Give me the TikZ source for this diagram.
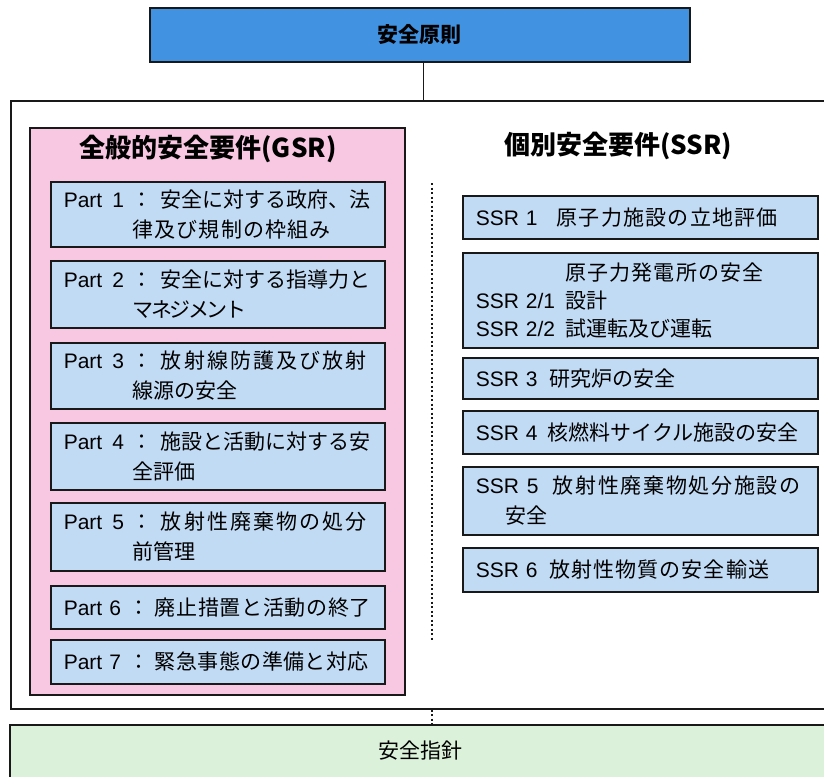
\documentclass[tikz,border=0pt]{standalone}
\usepackage{fontspec}
\setmainfont{Noto Sans CJK JP}
\newfontfamily\lat{Liberation Sans}
\definecolor{topblue}{RGB}{66,146,226}
\definecolor{gsrpink}{RGB}{248,200,226}
\definecolor{boxblue}{RGB}{194,219,245}
\definecolor{guidegreen}{RGB}{220,241,217}
\newcommand\partlbl[1]{{\lat Part\hspace{10pt}#1}\hspace{8pt}：\hspace{8pt}}
\newcommand\partlblb[1]{{\lat Part #1}\hspace{8pt}：\hspace{5pt}}
\newcommand\wide[2]{{\addfontfeatures{LetterSpace=#1}#2}}
\newcommand\indentline[2]{\mbox{\kern#1pt\relax #2}}
\tikzset{
  frame/.style={draw=black!90, line width=1.6pt},
  plainbox/.style={frame, anchor=north west, inner sep=0pt},
  partbox/.style={frame, fill=boxblue, anchor=north west, inner xsep=13pt, inner ysep=0pt,
    align=left, text width=308pt, minimum width=334pt, font=\fontsize{21}{30}\selectfont},
  ssrbox/.style={frame, fill=boxblue, anchor=north west, inner xsep=13pt, inner ysep=0pt,
    align=left, text width=329pt, minimum width=355pt, font=\fontsize{21}{30}\selectfont},
  title/.style={font=\fontsize{26}{30}\selectfont\bfseries, inner sep=0pt},
  divider/.style={draw=black!90, line width=1.3pt, dash pattern=on 2pt off 2.5pt},
  conn/.style={draw=black!90, line width=1.1pt}
}
\begin{document}
\begin{tikzpicture}[x=1pt, y=-1pt]
\useasboundingbox (0,0) rectangle (824,776);
\clip (0,0) rectangle (824,776);
\fill[white] (0,0) rectangle (824,776);

% outer frame
\node[plainbox, minimum width=830pt, minimum height=608pt] (outer) at (10,100) {};

% GSR column
\node[plainbox, fill=gsrpink, minimum width=375pt, minimum height=567pt] (gsr) at (29,127) {};
\node[title] (gsrtitle) at (208,149) {全般的安全要件(GSR)};

\node[partbox, minimum height=65pt] (p1) at (50,181)
  {\mbox{\partlbl{1}安全に対する政府、法}\\\indentline{69}{\wide{5}{律及び規制の枠組み}}};
\node[partbox, minimum height=67pt] (p2) at (50,260)
  {\mbox{\partlbl{2}安全に対する指導力と}\\\indentline{69}{\wide{-12}{マネジメント}}};
\node[partbox, minimum height=66pt] (p3) at (50,342)
  {\mbox{\partlbl{3}\wide{10}{放射線防護及び放射}}\\\indentline{69}{線源の安全}};
\node[partbox, minimum height=67pt] (p4) at (50,422)
  {\mbox{\partlbl{4}施設と活動に対する安}\\\indentline{69}{全評価}};
\node[partbox, minimum height=68pt] (p5) at (50,502)
  {\mbox{\partlbl{5}\wide{10}{放射性廃棄物の処分}}\\\indentline{69}{前管理}};
\node[partbox, minimum height=43pt] (p6) at (50,585)
  {\mbox{\partlblb{6}\wide{3}{廃止措置と活動の終了}}};
\node[partbox, minimum height=44pt] (p7) at (50,639)
  {\mbox{\partlblb{7}\wide{2}{緊急事態の準備と対応}}};

% SSR column
\node[title] (ssrtitle) at (618,146) {個別安全要件(SSR)};

\node[ssrbox, minimum height=43pt] (s1) at (462,195)
  {\mbox{{\lat SSR 1}\hspace{19pt}\wide{6}{原子力施設の立地評価}}};
\node[ssrbox, minimum height=95pt, font=\fontsize{21}{28}\selectfont] (s2) at (462,252)
  {\indentline{90}{\wide{5}{原子力発電所の安全}}\\
   \mbox{{\lat SSR 2/1}\hspace{10pt}設計}\\
   \mbox{{\lat SSR 2/2}\hspace{10pt}試運転及び運転}};
\node[ssrbox, minimum height=41pt] (s3) at (462,357)
  {\mbox{{\lat SSR 3}\hspace{12pt}研究炉の安全}};
\node[ssrbox, minimum height=43pt] (s4) at (462,410)
  {\mbox{{\lat SSR 4}\hspace{10pt}核燃料サイクル施設の安全}};
\node[ssrbox, minimum height=68pt] (s5) at (462,466)
  {\mbox{{\lat SSR\hspace{8pt}5}\hspace{14pt}\wide{8}{放射性廃棄物処分施設の}}\\\indentline{30}{安全}};
\node[ssrbox, minimum height=44pt] (s6) at (462,547)
  {\mbox{{\lat SSR 6}\hspace{12pt}\wide{5}{放射性物質の安全輸送}}};

% divider
\coordinate (dv) at (432,0);
\coordinate (dtop) at (432,183);
\coordinate (dbot) at (432,640);
\draw[divider] (dtop) -- (dbot);

% top: safety fundamentals
\node[plainbox, fill=topblue, minimum width=540pt, minimum height=54pt,
      font=\fontsize{21}{24}\selectfont\bfseries] (top) at (149,7) {安全原則};
\draw[conn] ([xshift=4pt]top.south) -- ([xshift=4pt]top.south |- outer.north);

% bottom: safety guides
\node[plainbox, fill=guidegreen, minimum width=830pt, minimum height=80pt] (guide) at (9,724) {};
\node[font=\fontsize{21}{24}\selectfont, inner sep=0pt] (guidetext) at (420,751) {安全指針};
\draw[divider] (dv |- outer.south) -- (dv |- guide.north);
\end{tikzpicture}
\end{document}
